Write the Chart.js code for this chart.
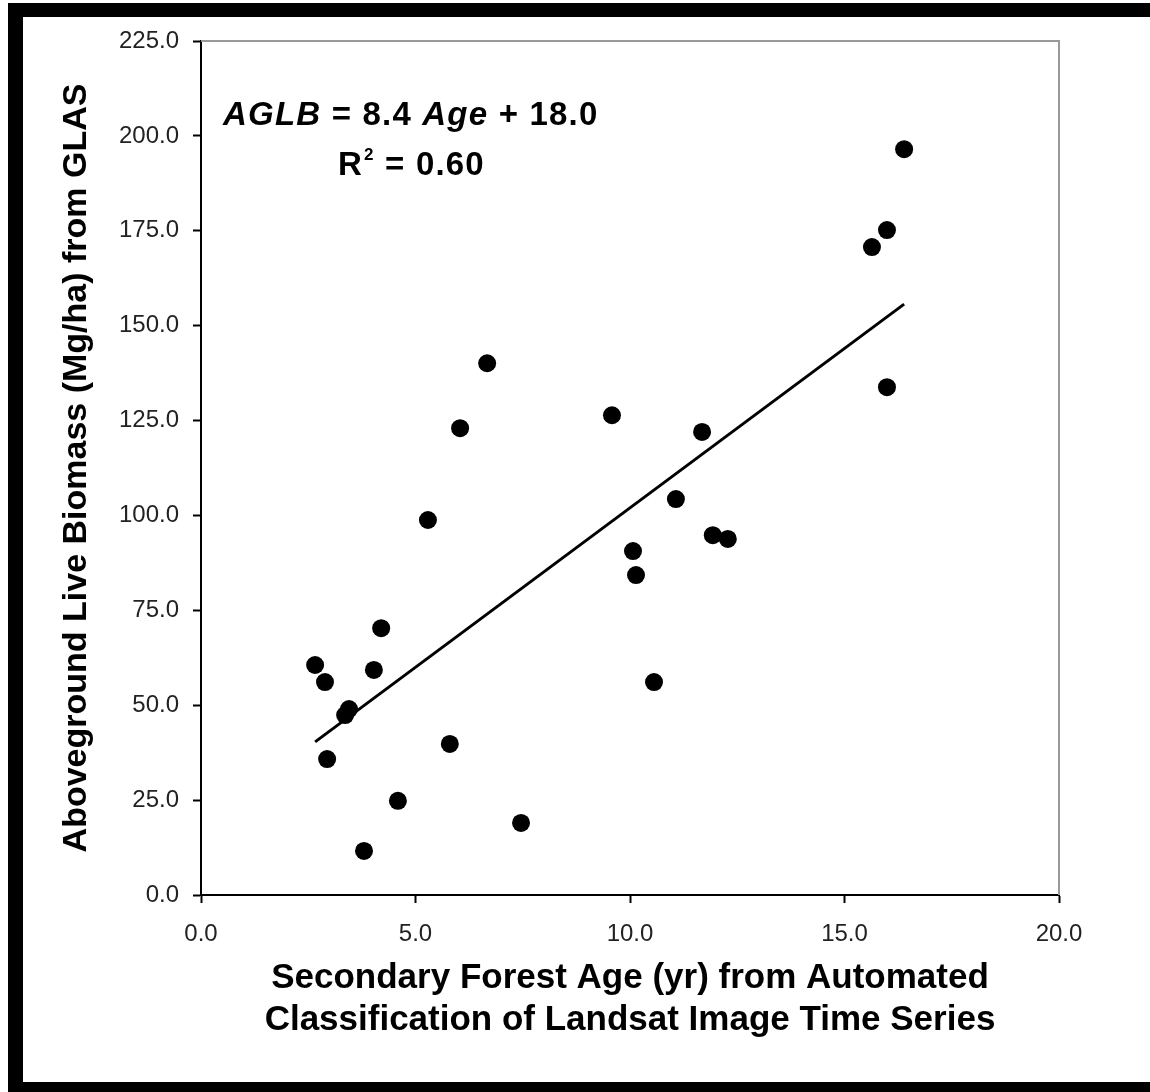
<!DOCTYPE html>
<html>
<head>
<meta charset="utf-8">
<script src="https://cdn.jsdelivr.net/npm/chart.js@4.4.1/dist/chart.umd.min.js"></script>
<style>
html, body { margin: 0; padding: 0; background: #fff; }
#wrap { width: 1150px; height: 1092px; }
</style>
</head>
<body>
<div id="wrap"><canvas id="grafico" width="1150" height="1092"></canvas></div>
<script>
// valores
const idade = [2.66, 2.89, 2.94, 3.36, 3.45, 4.03, 4.20, 3.80, 4.59, 5.29, 5.80, 6.04, 6.67,
    7.46, 9.58, 10.07, 10.14, 10.56, 11.07, 11.68, 11.93, 12.28, 15.64, 15.99, 15.99, 16.39];
const biomassa = [60.6, 56.1, 35.8, 47.4, 49.0, 59.3, 70.3, 11.6, 24.8, 98.8, 39.8, 123.0, 140.1,
    19.0, 126.4, 90.6, 84.3, 56.1, 104.3, 122.0, 94.8, 93.8, 170.7, 175.2, 133.8, 196.5];
const ticksX = [0, 5, 10, 15, 20];
const ticksY = [0, 25, 50, 75, 100, 125, 150, 175, 200, 225];
const inclinacao = 8.4;
const intercepto = 18.0;

const FONTE = '"Liberation Sans", Arial, sans-serif';

const pontos = idade.map((x, i) => ({ x: x, y: biomassa[i] }));
const xMin = Math.min(...idade), xMax = Math.max(...idade);
const tendencia = [xMin, xMax].map(x => ({ x: x, y: inclinacao * x + intercepto }));

// fundo branco + moldura preta
const moldura = {
    id: 'moldura',
    beforeDraw(chart) {
        const ctx = chart.ctx;
        ctx.save();
        ctx.fillStyle = '#fff';
        ctx.fillRect(0, 0, chart.width, chart.height);
        ctx.fillStyle = '#000';
        ctx.fillRect(8, 3, chart.width - 8, 14);
        ctx.fillRect(8, 3, 15, chart.height - 3);
        ctx.fillRect(8, 1082, chart.width - 8, 10);
        ctx.restore();
    },
    beforeDatasetsDraw(chart) {
        const { ctx, chartArea } = chart;
        ctx.save();
        ctx.strokeStyle = '#999';
        ctx.lineWidth = 2;
        ctx.beginPath();
        ctx.moveTo(chartArea.left, chartArea.top);
        ctx.lineTo(chartArea.right, chartArea.top);
        ctx.lineTo(chartArea.right, chartArea.bottom);
        ctx.stroke();
        ctx.restore();
    }
};

// equacao e R2
const anotacao = {
    id: 'anotacao',
    afterDatasetsDraw(chart) {
        const ctx = chart.ctx;
        ctx.save();
        ctx.fillStyle = '#000';
        ctx.textBaseline = 'alphabetic';
        ctx.letterSpacing = '1.2px';
        const partes = [
            { t: 'AGLB', it: true },
            { t: ' = 8.4 ', it: false },
            { t: 'Age', it: true },
            { t: ' + 18.0', it: false }
        ];
        let x = 223;
        partes.forEach(p => {
            ctx.font = (p.it ? 'italic ' : '') + 'bold 33px ' + FONTE;
            ctx.fillText(p.t, x, 125);
            x += ctx.measureText(p.t).width;
        });
        ctx.font = 'bold 33px ' + FONTE;
        ctx.fillText('R', 338, 175);
        let rx = 338 + ctx.measureText('R').width + 1;
        ctx.font = 'bold 17px ' + FONTE;
        ctx.fillText('2', rx, 160);
        rx += ctx.measureText('2').width;
        ctx.font = 'bold 33px ' + FONTE;
        ctx.fillText(' = 0.60', rx, 175);
        ctx.restore();
    }
};

new Chart(document.getElementById('grafico'), {
    type: 'scatter',
    data: {
        datasets: [{
            label: 'AGLB',
            data: pontos,
            backgroundColor: '#000',
            borderWidth: 0,
            pointRadius: 9,
            pointHoverRadius: 9,
            order: 1
        }, {
            type: 'line',
            label: 'Tendência',
            data: tendencia,
            borderColor: '#000',
            borderWidth: 3,
            pointRadius: 0,
            fill: false,
            order: 2
        }]
    },
    options: {
        responsive: false,
        animation: false,
        devicePixelRatio: 1,
        layout: { padding: { left: 0, top: 41, right: 91, bottom: 0 } },
        plugins: { legend: { display: false }, tooltip: { enabled: false } },
        scales: {
            x: {
                type: 'linear',
                min: 0,
                max: 20,
                afterBuildTicks: s => { s.ticks = ticksX.map(v => ({ value: v })); },
                afterFit: s => { s.height = 197; },
                grid: { drawOnChartArea: false, drawTicks: true, tickLength: 8, tickWidth: 2, tickColor: '#000' },
                border: { display: true, color: '#000', width: 2 },
                ticks: {
                    color: '#222', padding: 17, maxRotation: 0, autoSkip: false,
                    font: { family: FONTE, size: 24 },
                    callback: v => Number(v).toFixed(1)
                },
                title: {
                    display: true,
                    text: ['Secondary Forest Age (yr) from Automated', 'Classification of Landsat Image Time Series'],
                    color: '#000',
                    font: { family: FONTE, size: 35, weight: 'bold', lineHeight: 1.2 },
                    padding: { top: 0, bottom: 51 }
                }
            },
            y: {
                type: 'linear',
                min: 0,
                max: 225,
                afterBuildTicks: s => { s.ticks = ticksY.map(v => ({ value: v })); },
                afterFit: s => { s.width = 201; },
                grid: { drawOnChartArea: false, drawTicks: true, tickLength: 8, tickWidth: 2, tickColor: '#000' },
                border: { display: true, color: '#000', width: 2 },
                ticks: {
                    color: '#222', padding: 14, autoSkip: false,
                    font: { family: FONTE, size: 24 },
                    callback: v => Number(v).toFixed(1)
                },
                title: {
                    display: true,
                    text: 'Aboveground Live Biomass (Mg/ha) from GLAS',
                    color: '#000',
                    font: { family: FONTE, size: 34, weight: 'bold', lineHeight: 1.2 },
                    padding: { top: 56, bottom: 0 }
                }
            }
        }
    },
    plugins: [moldura, anotacao]
});
</script>
</body>
</html>
